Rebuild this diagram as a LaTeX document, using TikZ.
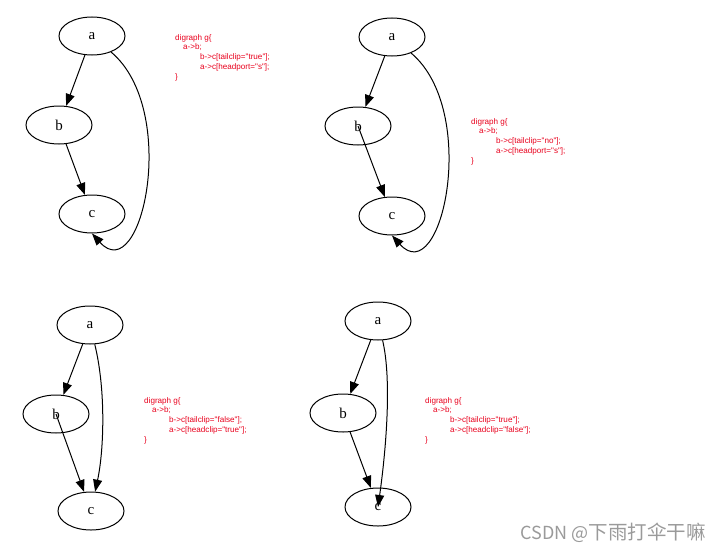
\documentclass[tikz,border=0pt]{standalone}
\usepackage{fontspec}
\setmainfont{Liberation Serif}
\newfontfamily\codefont{Liberation Sans}
\newfontfamily\cjkfont{Noto Sans CJK SC}
\usetikzlibrary{arrows.meta,shapes.geometric}
\definecolor{dotred}{HTML}{E8001C}
\definecolor{wmgray}{HTML}{9A9A9A}

\begin{document}
\begin{tikzpicture}[
  x=1pt, y=-1pt,
  vtx/.style={draw, ellipse, line width=1pt, inner sep=0pt,
              minimum width=66pt, minimum height=38pt, font=\fontsize{15}{17}\selectfont},
  edge/.style={-{Triangle[length=12pt,width=9pt]}, line width=1pt},
  code/.style={anchor=north west, align=left, inner sep=0pt, text=dotred,
               font=\codefont\fontsize{8.1}{9.9}\selectfont},
]
\useasboundingbox (0,0) rectangle (719,551);

% oben links: tailclip=true, headport=s
\node[vtx] (a1) at (92,36)  {a};
\node[vtx] (b1) at (59,125) {b};
\node[vtx] (c1) at (92,214) {c};
\draw[edge] (a1) -- (b1);
\draw[edge] (b1) -- (c1);
\draw[edge] (a1) .. controls (180,110) and (142,289) .. (c1.south);
\node[code] (g1) at (175,34) {digraph g\{\\\hspace*{8pt}a->b;\\\hspace*{25pt}b->c[tailclip="true"];\\\hspace*{25pt}a->c[headport="s"];\\\}};

% oben rechts: tailclip=no, headport=s
\node[vtx] (a2) at (392,37)  {a};
\node[vtx] (b2) at (358,126) {b};
\node[vtx] (c2) at (392,216) {c};
\draw[edge] (a2) -- (b2);
\draw[edge] (b2.center) -- (c2);
\draw[edge] (a2) .. controls (480,111) and (442,291) .. (c2.south);
\node[code] (g2) at (471,118) {digraph g\{\\\hspace*{8pt}a->b;\\\hspace*{25pt}b->c[tailclip="no"];\\\hspace*{25pt}a->c[headport="s"];\\\}};

% unten links: tailclip=false, headclip=true
\node[vtx] (a3) at (90,325) {a};
\node[vtx] (b3) at (56,414) {b};
\node[vtx] (c3) at (91,511) {c};
\draw[edge] (a3) -- (b3);
\draw[edge] (b3.center) -- (c3);
\draw[edge] (a3) .. controls (106,390) and (104,450) .. (c3);
\node[code] (g3) at (144,397) {digraph g\{\\\hspace*{8pt}a->b;\\\hspace*{25pt}b->c[tailclip="false"];\\\hspace*{25pt}a->c[headclip="true"];\\\}};

% unten rechts: tailclip=true, headclip=false
\node[vtx] (a4) at (378,321) {a};
\node[vtx] (b4) at (343,413) {b};
\node[vtx] (c4) at (378,507) {c};
\draw[edge] (a4) -- (b4);
\draw[edge] (b4) -- (c4);
\draw[edge] (a4) .. controls (392,380) and (386,450) .. (c4.center);
\node[code] (g4) at (425,397) {digraph g\{\\\hspace*{8pt}a->b;\\\hspace*{25pt}b->c[tailclip="true"];\\\hspace*{25pt}a->c[headclip="false"];\\\}};

% Wasserzeichen
\node[anchor=east, inner sep=0pt, text=wmgray, font=\cjkfont\fontsize{19.5}{21}\selectfont]
  (wm) at (706,533) {{\fontsize{18}{21}\selectfont CSDN @}下雨打伞干嘛};
\end{tikzpicture}
\end{document}
